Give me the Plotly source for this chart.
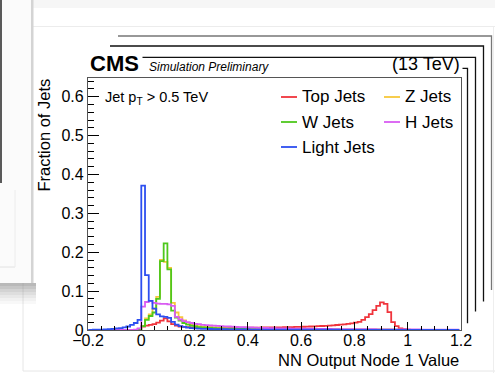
import numpy as np
import plotly.graph_objects as go

# ---- histogram data: 99 bins of width 0.014, first bin starts at -0.196 ----
BIN_WIDTH = 0.014
FIRST_EDGE = -0.196

top_jets = [
    0, 0, 0, 0, 0, 0, 0, 0, 0, 0, 0, 0, 0, 0.001,
    0.009, 0.011, 0.013, 0.015, 0.019, 0.024, 0.030, 0.022, 0.015, 0.011, 0.009, 0.008, 0.0075,
    0.007, 0.007, 0.0068, 0.0066, 0.0065, 0.0064, 0.0063, 0.0062, 0.0062, 0.0061, 0.006, 0.006,
    0.006, 0.006, 0.0061, 0.0061, 0.0062, 0.0062, 0.0063, 0.0064, 0.0065, 0.0066, 0.0067,
    0.0068, 0.007, 0.0072, 0.0074, 0.0076, 0.0078, 0.008,
    0.0083, 0.0086, 0.009, 0.0094, 0.0098, 0.0103, 0.0108,
    0.0114, 0.012, 0.0128, 0.0137, 0.0147, 0.0158, 0.017,
    0.019, 0.021, 0.026, 0.033, 0.041, 0.051, 0.062, 0.071, 0.067, 0.046, 0.020, 0.010, 0.004,
    0.002, 0.001,
    0.0005, 0.0003, 0.0002, 0, 0, 0, 0, 0, 0, 0, 0, 0, 0,
]

w_jets = [
    0, 0, 0, 0, 0, 0, 0, 0, 0, 0, 0, 0, 0, 0.001,
    0.010, 0.026, 0.036, 0.045, 0.080, 0.177, 0.223, 0.156, 0.050, 0.032, 0.024, 0.018, 0.014,
    0.011, 0.009, 0.0075, 0.0065,
    0.0058, 0.0052, 0.0047, 0.0043, 0.004, 0.0037, 0.0034, 0.0032, 0.003, 0.0028,
    0.0026, 0.0025, 0.0024, 0.0023, 0.0022, 0.0021, 0.002, 0.0019, 0.0018, 0.0017,
    0.0016, 0.0016, 0.0015, 0.0015, 0.0014, 0.0014, 0.0013, 0.0013, 0.0012, 0.0012,
    0.0012, 0.0011, 0.0011, 0.0011, 0.001, 0.001, 0.001, 0.001, 0.001, 0.001,
    0.001, 0.001, 0.001, 0.001, 0.001, 0.001, 0.001, 0.001, 0.0009, 0.0008,
    0.0007, 0.0006, 0.0005, 0.0005, 0.0004, 0.0004, 0.0003, 0.0003, 0.0003, 0.0003,
    0.0002, 0.0002, 0.0002, 0.0002, 0.0002, 0.0002, 0.0002, 0.0002,
]

z_jets = [
    0, 0, 0, 0, 0, 0, 0, 0, 0, 0, 0, 0, 0, 0.001,
    0.010, 0.030, 0.040, 0.055, 0.085, 0.180, 0.175, 0.160, 0.070, 0.045, 0.033, 0.025, 0.019,
    0.015, 0.012, 0.010, 0.0085,
    0.0075, 0.0067, 0.006, 0.0055, 0.005, 0.0046, 0.0043, 0.004, 0.0037, 0.0035,
    0.0033, 0.0031, 0.0029, 0.0028, 0.0026, 0.0025, 0.0024, 0.0023, 0.0022, 0.0021,
    0.002, 0.0019, 0.0019, 0.0018, 0.0017, 0.0017, 0.0016, 0.0016, 0.0015, 0.0015,
    0.0014, 0.0014, 0.0013, 0.0013, 0.0012, 0.0012, 0.0012, 0.0011, 0.0011, 0.0011,
    0.001, 0.001, 0.001, 0.001, 0.001, 0.001, 0.0009, 0.0009, 0.0008, 0.0007,
    0.0006, 0.0005, 0.0005, 0.0004, 0.0004, 0.0003, 0.0003, 0.0003, 0.0003, 0.0002,
    0.0002, 0.0002, 0.0002, 0.0002, 0.0002, 0.0002, 0.0002, 0.0002,
]

h_jets = [
    0, 0, 0, 0, 0, 0, 0, 0, 0, 0, 0, 0, 0.001, 0.004,
    0.060, 0.072, 0.075, 0.070, 0.068, 0.067, 0.067, 0.066, 0.062, 0.034, 0.027, 0.023, 0.020,
    0.018, 0.016, 0.015, 0.013,
    0.0125, 0.012, 0.011, 0.0105, 0.01, 0.0095, 0.009, 0.0085, 0.008, 0.0076,
    0.0072, 0.0068, 0.0064, 0.006, 0.0057, 0.0054, 0.0051, 0.0048, 0.0046, 0.0044,
    0.0042, 0.004, 0.0038, 0.0036, 0.0035, 0.0034, 0.0033, 0.0032, 0.0031, 0.003,
    0.0029, 0.0028, 0.0027, 0.0026, 0.0025, 0.0024, 0.0023, 0.0022, 0.0022, 0.0021,
    0.0021, 0.002, 0.002, 0.002, 0.0019, 0.0019, 0.0018, 0.0018, 0.0017, 0.0017,
    0.0016, 0.0016, 0.0015, 0.0015, 0.0014, 0.0014, 0.0013, 0.0013, 0.0012, 0.0012,
    0.0012, 0.0011, 0.0011, 0.0011, 0.001, 0.001, 0.001, 0.001,
]

light_jets = [
    0.0005, 0.0007, 0.001, 0.0012, 0.0015, 0.002, 0.003, 0.004, 0.005, 0.007, 0.009, 0.013,
    0.018, 0.026,
    0.371, 0.141, 0.075, 0.055, 0.040, 0.035, 0.034, 0.031, 0.021, 0.014, 0.010, 0.008, 0.006,
    0.005, 0.004, 0.0035, 0.003,
    0.0028, 0.0026, 0.0024, 0.0022, 0.002, 0.0019, 0.0018, 0.0017, 0.0016, 0.0015,
    0.0014, 0.0013, 0.0012, 0.0012, 0.0011, 0.0011, 0.001, 0.001, 0.001, 0.001,
    0.0009, 0.0009, 0.0009, 0.0008, 0.0008, 0.0008, 0.0008, 0.0007, 0.0007, 0.0007,
    0.0007, 0.0006, 0.0006, 0.0006, 0.0006, 0.0006, 0.0005, 0.0005, 0.0005, 0.0005,
    0.0005, 0.0005, 0.0004, 0.0004, 0.0004, 0.0004, 0.0004, 0.0004, 0.0004, 0.0003,
    0.0003, 0.0003, 0.0003, 0.0003, 0.0003, 0.0003, 0.0003, 0.0003, 0.0002, 0.0002,
    0.0002, 0.0002, 0.0002, 0.0002, 0.0002, 0.0002, 0.0002, 0.0002,
]

series = [
    ("Top Jets", top_jets, "#f0343c"),
    ("Z Jets", z_jets, "#f7c83a"),
    ("W Jets", w_jets, "#4ec81c"),
    ("H Jets", h_jets, "#d95cf2"),
    ("Light Jets", light_jets, "#2d4ff0"),
]

FONT = "Liberation Sans, Arial, Helvetica, sans-serif"

# page geometry (pixels) of the plotting frame
W, H = 495, 373
L, R, T, B = 88, 461, 78, 330


def px(x):
    return (x - L) / (R - L)


def py(y):
    return (B - y) / (B - T)


fig = go.Figure()

for name, vals, color in series:
    vals = np.asarray(vals, dtype=float)
    edges = FIRST_EDGE + BIN_WIDTH * np.arange(len(vals) + 1)
    # step outline: each value held over its bin, closed down to zero at both ends
    xs = np.concatenate([[edges[0]], edges])
    ys = np.concatenate([[0.0], vals, [0.0]])
    fig.add_trace(go.Scatter(
        x=xs, y=ys, mode="lines", name=name,
        line=dict(color=color, width=1.8, shape="hv"),
        showlegend=False, hoverinfo="skip",
    ))

shapes = []

# stacked frame outlines behind the canvas
def corner(x0, y0, x1, y1, color, width=1.3):
    shapes.append(dict(
        type="path", xref="paper", yref="paper",
        path=f"M {px(x0)},{py(y0)} L {px(x1)},{py(y0)} L {px(x1)},{py(y1)}",
        line=dict(color=color, width=width), layer="above",
    ))

# faint window edges
def seg(x0, y0, x1, y1, color, width=1.0):
    shapes.append(dict(
        type="line", xref="paper", yref="paper",
        x0=px(x0), y0=py(y0), x1=px(x1), y1=py(y1),
        line=dict(color=color, width=width), layer="below",
    ))

def box(x0, y0, x1, y1, fill, opacity=1.0, layer="below"):
    shapes.append(dict(
        type="rect", xref="paper", yref="paper",
        x0=px(x0), y0=py(y0), x1=px(x1), y1=py(y1),
        fillcolor=fill, opacity=opacity, line=dict(width=0), layer=layer,
    ))

box(0, 0, W, 8, "#f6f6f6")
seg(33, 26.5, W, 26.5, "#ececec")
seg(23, 27, 23, 371, "#e6e6e6")
seg(23, 371, W, 371, "#e6e6e6")
seg(493.5, 27, 493.5, H, "#eeeeee")

# panel sticking out on the left
box(0, 0, 33, 283, "#fbfbfb")
box(31, 0, 33.5, 283, "#d4d4d4")
box(0, 0, 2, 183, "#5a5a5a")
seg(0, 267, 15, 267, "#e2e2e2")
seg(15, 190, 15, 267, "#ececec")
for i, op in enumerate([0.55, 0.45, 0.35, 0.26, 0.18, 0.11, 0.06]):
    box(0, 283 + 3 * i, 36, 286 + 3 * i, "#808080", opacity=op)

corner(118, 36, 491.5, 290, "#777777")
corner(110, 46, 483.5, 301.5, "#111111")
corner(142.5, 57.3, 475.5, 311.5, "#111111")
corner(462.5, 68.3, 467.5, 323.3, "#111111")

# legend line samples
leg_pos = [(281, 97), (384, 97), (281, 122), (384, 122), (281, 147)]
for (name, _, color), (lx, ly) in zip(series, leg_pos):
    shapes.append(dict(
        type="line", xref="paper", yref="paper",
        x0=px(lx), x1=px(lx + 16), y0=py(ly), y1=py(ly),
        line=dict(color=color, width=1.8), layer="above",
    ))

annotations = []

def text(x, y, s, size, xanchor="left", yanchor="middle", **kw):
    annotations.append(dict(
        xref="paper", yref="paper", x=px(x), y=py(y), text=s,
        showarrow=False, xanchor=xanchor, yanchor=yanchor,
        font=dict(family=FONT, size=size, color="black"), **kw,
    ))

for (name, _, _), (lx, ly) in zip(series, leg_pos):
    text(lx + 19, ly, name, 17)

text(88, 64, "<b>CMS</b>", 22)
text(147, 67.5, "<i>Simulation Preliminary</i>", 12)
text(462, 64, "(13 TeV)", 18, xanchor="right")
text(103, 98, "Jet p<sub>T</sub> > 0.5 TeV", 14.5)
text(461, 360, "NN Output Node 1 Value", 16.5, xanchor="right")
annotations.append(dict(
    xref="paper", yref="paper", x=px(43), y=py(77), text="Fraction of Jets",
    showarrow=False, textangle=-90, xanchor="center", yanchor="top",
    font=dict(family=FONT, size=16.5, color="black"),
))

fig.update_layout(
    width=W, height=H, autosize=False,
    margin=dict(l=L, r=W - R, t=T, b=H - B, pad=0),
    paper_bgcolor="white", plot_bgcolor="white",
    showlegend=False,
    shapes=shapes, annotations=annotations,
    font=dict(family=FONT, size=16, color="black"),
)

fig.update_xaxes(
    range=[-0.2, 1.2], dtick=0.2, tick0=0, showgrid=False, zeroline=False,
    showline=True, linecolor="#555555", linewidth=1.3, mirror=True,
    ticks="inside", ticklen=8, tickwidth=1.2, tickcolor="black",
    minor=dict(ticks="inside", ticklen=4, dtick=0.05, tickwidth=1.1, tickcolor="black"),
    tickfont=dict(family=FONT, size=16), ticklabelstandoff=-4,
)
fig.update_yaxes(
    range=[0, 0.648], dtick=0.1, tick0=0, showgrid=False, zeroline=False,
    showline=True, linecolor="#555555", linewidth=1.3, mirror=True,
    ticks="inside", ticklen=11, tickwidth=1.2, tickcolor="black",
    minor=dict(ticks="inside", ticklen=6, dtick=0.02, tickwidth=1.1, tickcolor="black"),
    tickfont=dict(family=FONT, size=16),
)

fig.write_html("out.html")
